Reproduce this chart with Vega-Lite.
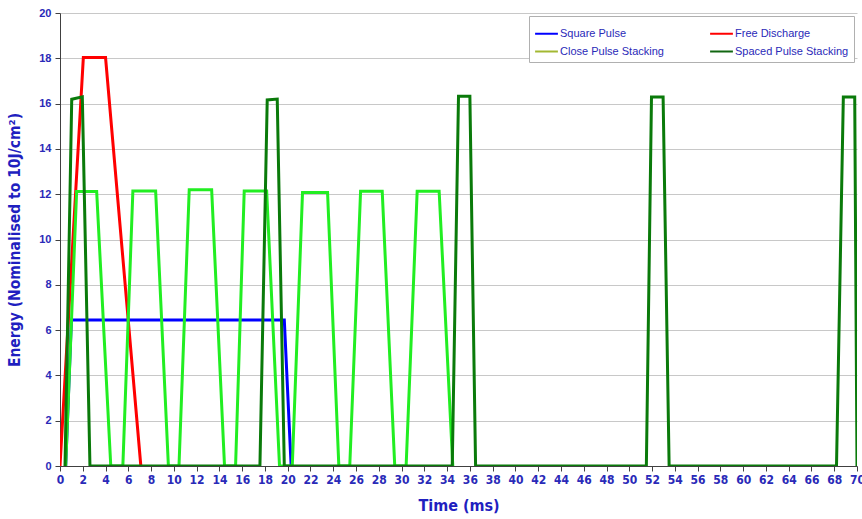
{
  "$schema": "https://vega.github.io/schema/vega-lite/v6.json",
  "width": 797,
  "height": 453,
  "autosize": "none",
  "padding": {"left": 60, "top": 13, "right": 5, "bottom": 53},
  "background": "white",
  "config": {
    "view": {"stroke": null},
    "font": "Liberation Sans"
  },
  "data": {
    "values": [
      {"series": "Square Pulse", "t": 0.5, "e": 0},
      {"series": "Square Pulse", "t": 1.0, "e": 6.45},
      {"series": "Square Pulse", "t": 19.7, "e": 6.45},
      {"series": "Square Pulse", "t": 20.3, "e": 0},
      {"series": "Free Discharge", "t": 0, "e": 0},
      {"series": "Free Discharge", "t": 2.05, "e": 18.03},
      {"series": "Free Discharge", "t": 4.0, "e": 18.03},
      {"series": "Free Discharge", "t": 7.1, "e": 0},
      {"series": "Close Pulse Stacking", "t": 0.5, "e": 0},
      {"series": "Close Pulse Stacking", "t": 1.46, "e": 12.12},
      {"series": "Close Pulse Stacking", "t": 3.22, "e": 12.12},
      {"series": "Close Pulse Stacking", "t": 4.46, "e": 0},
      {"series": "Close Pulse Stacking", "t": 5.52, "e": 0},
      {"series": "Close Pulse Stacking", "t": 6.4, "e": 12.14},
      {"series": "Close Pulse Stacking", "t": 8.4, "e": 12.14},
      {"series": "Close Pulse Stacking", "t": 9.52, "e": 0},
      {"series": "Close Pulse Stacking", "t": 10.45, "e": 0},
      {"series": "Close Pulse Stacking", "t": 11.35, "e": 12.2},
      {"series": "Close Pulse Stacking", "t": 13.32, "e": 12.2},
      {"series": "Close Pulse Stacking", "t": 14.45, "e": 0},
      {"series": "Close Pulse Stacking", "t": 15.42, "e": 0},
      {"series": "Close Pulse Stacking", "t": 16.18, "e": 12.14},
      {"series": "Close Pulse Stacking", "t": 18.15, "e": 12.14},
      {"series": "Close Pulse Stacking", "t": 19.28, "e": 0},
      {"series": "Close Pulse Stacking", "t": 20.4, "e": 0},
      {"series": "Close Pulse Stacking", "t": 21.3, "e": 12.07},
      {"series": "Close Pulse Stacking", "t": 23.5, "e": 12.07},
      {"series": "Close Pulse Stacking", "t": 24.49, "e": 0},
      {"series": "Close Pulse Stacking", "t": 25.45, "e": 0},
      {"series": "Close Pulse Stacking", "t": 26.4, "e": 12.13},
      {"series": "Close Pulse Stacking", "t": 28.3, "e": 12.13},
      {"series": "Close Pulse Stacking", "t": 29.4, "e": 0},
      {"series": "Close Pulse Stacking", "t": 30.4, "e": 0},
      {"series": "Close Pulse Stacking", "t": 31.37, "e": 12.13},
      {"series": "Close Pulse Stacking", "t": 33.3, "e": 12.13},
      {"series": "Close Pulse Stacking", "t": 34.5, "e": 0},
      {"series": "Spaced Pulse Stacking", "t": 0.44, "e": 0},
      {"series": "Spaced Pulse Stacking", "t": 1.03, "e": 16.19},
      {"series": "Spaced Pulse Stacking", "t": 1.96, "e": 16.3},
      {"series": "Spaced Pulse Stacking", "t": 2.63, "e": 0},
      {"series": "Spaced Pulse Stacking", "t": 17.56, "e": 0},
      {"series": "Spaced Pulse Stacking", "t": 18.2, "e": 16.16},
      {"series": "Spaced Pulse Stacking", "t": 19.08, "e": 16.2},
      {"series": "Spaced Pulse Stacking", "t": 19.7, "e": 0},
      {"series": "Spaced Pulse Stacking", "t": 34.45, "e": 0},
      {"series": "Spaced Pulse Stacking", "t": 35.0, "e": 16.32},
      {"series": "Spaced Pulse Stacking", "t": 36.0, "e": 16.32},
      {"series": "Spaced Pulse Stacking", "t": 36.5, "e": 0},
      {"series": "Spaced Pulse Stacking", "t": 51.5, "e": 0},
      {"series": "Spaced Pulse Stacking", "t": 51.95, "e": 16.29},
      {"series": "Spaced Pulse Stacking", "t": 52.97, "e": 16.29},
      {"series": "Spaced Pulse Stacking", "t": 53.5, "e": 0},
      {"series": "Spaced Pulse Stacking", "t": 68.2, "e": 0},
      {"series": "Spaced Pulse Stacking", "t": 68.8, "e": 16.29},
      {"series": "Spaced Pulse Stacking", "t": 69.8, "e": 16.29},
      {"series": "Spaced Pulse Stacking", "t": 70.0, "e": 0}
    ]
  },
  "encoding": {
    "x": {
      "field": "t", "type": "quantitative",
      "scale": {"domain": [0, 70], "nice": false, "zero": false},
      "axis": {
        "title": "Time (ms)",
        "values": [0,2,4,6,8,10,12,14,16,18,20,22,24,26,28,30,32,34,36,38,40,42,44,46,48,50,52,54,56,58,60,62,64,66,68,70],
        "grid": false,
        "domainColor": "#404040",
        "tickColor": "#404040",
        "tickSize": 5,
        "labelFont": "Liberation Sans Narrow, DejaVu Sans Condensed, sans-serif",
        "labelFontSize": 12,
        "labelFontWeight": "bold",
        "labelColor": "#2a2ab8",
        "labelPadding": 3,
        "labelFlush": false,
        "titleFont": "Liberation Sans Narrow, DejaVu Sans Condensed, sans-serif",
        "titleFontSize": 16,
        "titleFontWeight": "bold",
        "titleColor": "#1f1fc0",
        "titlePadding": 12
      }
    },
    "y": {
      "field": "e", "type": "quantitative",
      "scale": {"domain": [0, 20], "nice": false},
      "axis": {
        "title": "Energy (Nominalised to 10J/cm²)",
        "values": [0,2,4,6,8,10,12,14,16,18,20],
        "grid": true,
        "gridColor": "#c8c8c8",
        "gridWidth": 1,
        "domainColor": "#404040",
        "tickColor": "#404040",
        "tickSize": 5,
        "labelFont": "Liberation Sans, sans-serif",
        "labelFontSize": 11,
        "labelFontWeight": "bold",
        "labelColor": "#2a2ab8",
        "labelPadding": 4,
        "titleFont": "Liberation Sans Narrow, DejaVu Sans Condensed, sans-serif",
        "titleFontSize": 15.5,
        "titleFontWeight": "bold",
        "titleColor": "#1f1fc0",
        "titlePadding": 16
      }
    }
  },
  "layer": [
    {
      "mark": {"type": "line", "strokeWidth": 0, "clip": true},
      "encoding": {
        "color": {
          "field": "series", "type": "nominal",
          "scale": {
            "domain": ["Square Pulse", "Close Pulse Stacking", "Free Discharge", "Spaced Pulse Stacking"],
            "range": ["#0000ff", "#a3b832", "#ff0000", "#116611"]
          },
          "legend": {
            "title": null,
            "orient": "top-right",
            "offset": 3,
            "columns": 2,
            "columnPadding": 42,
            "rowPadding": 0,
            "symbolType": "stroke",
            "symbolSize": 520,
            "symbolStrokeWidth": 2,
            "symbolOpacity": 1,
            "labelFont": "Liberation Sans, sans-serif",
            "labelFontSize": 11,
            "labelColor": "#2a2ab8",
            "labelOffset": 1,
            "labelLimit": 200,
            "padding": 5,
            "strokeColor": "#b0b0b0",
            "fillColor": "white"
          }
        }
      }
    },
    {
      "mark": {"type": "line", "strokeWidth": 3, "clip": true, "strokeJoin": "miter"},
      "encoding": {
        "stroke": {
          "field": "series", "type": "nominal",
          "scale": {
            "domain": ["Square Pulse", "Free Discharge", "Close Pulse Stacking", "Spaced Pulse Stacking"],
            "range": ["#0000ff", "#ff0000", "#22ee22", "#0a7a0a"]
          },
          "legend": null
        }
      }
    }
  ]
}
